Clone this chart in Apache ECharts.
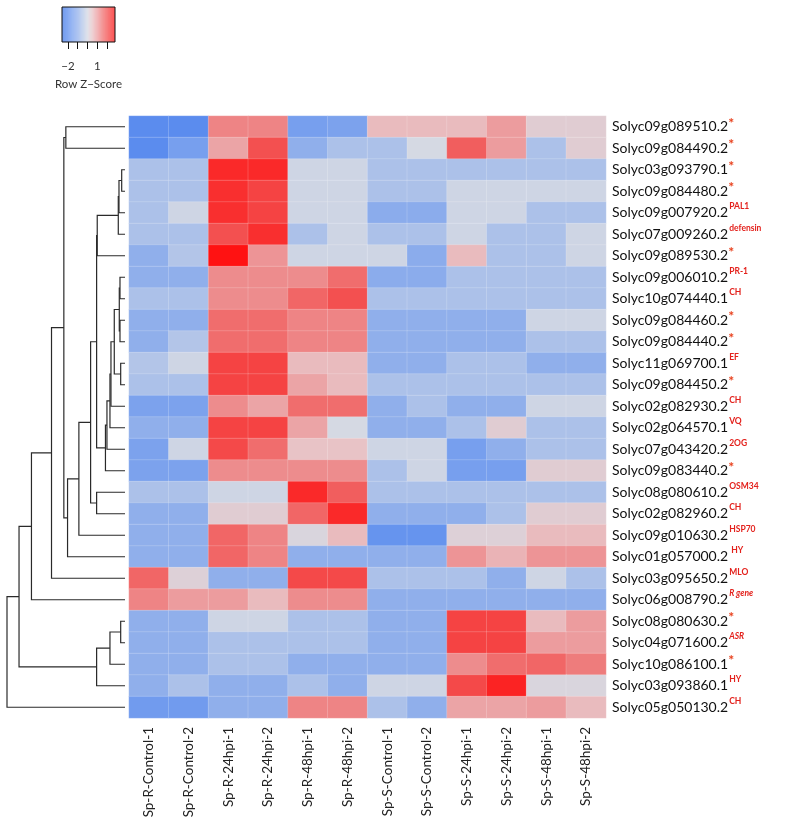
<!DOCTYPE html>
<html>
<head>
<meta charset="utf-8">
<script src="https://cdn.jsdelivr.net/npm/echarts@6/dist/echarts.min.js"></script>
<style>
  html, body { margin: 0; padding: 0; background: #fff; }
  #main { width: 790px; height: 830px; }
</style>
</head>
<body>
<div id="main"></div>
<script>
// samples (columns)
var colNames = ['Sp-R-Control-1','Sp-R-Control-2','Sp-R-24hpi-1','Sp-R-24hpi-2','Sp-R-48hpi-1','Sp-R-48hpi-2',
    'Sp-S-Control-1','Sp-S-Control-2','Sp-S-24hpi-1','Sp-S-24hpi-2','Sp-S-48hpi-1','Sp-S-48hpi-2'];

// genes (rows), top to bottom
var rowNames = ['Solyc09g089510.2','Solyc09g084490.2','Solyc03g093790.1','Solyc09g084480.2','Solyc09g007920.2',
    'Solyc07g009260.2','Solyc09g089530.2','Solyc09g006010.2','Solyc10g074440.1','Solyc09g084460.2',
    'Solyc09g084440.2','Solyc11g069700.1','Solyc09g084450.2','Solyc02g082930.2','Solyc02g064570.1',
    'Solyc07g043420.2','Solyc09g083440.2','Solyc08g080610.2','Solyc02g082960.2','Solyc09g010630.2',
    'Solyc01g057000.2','Solyc03g095650.2','Solyc06g008790.2','Solyc08g080630.2','Solyc04g071600.2',
    'Solyc10g086100.1','Solyc03g093860.1','Solyc05g050130.2'];

// red annotation next to each gene
var rowTags = ['*','*','*','*','PAL1','defensin','*','PR-1','CH','*','*','EF','*','CH','VQ','2OG','*',
    'OSM34','CH','HSP70','HY','MLO','R gene','*','ASR','*','HY','CH'];

// row z-scores, one list per gene
var zScores = [
    [-2.0,-2.0, 1.3, 1.3,-1.5,-1.4, 0.6, 0.6, 0.6, 1.0, 0.3, 0.3],
    [-2.0,-1.5, 0.9, 2.0,-1.0,-0.6,-0.6, 0.0, 1.8, 1.0,-0.6, 0.3],
    [-0.6,-0.6, 2.6, 2.6,-0.1,-0.1,-0.6,-0.6,-0.6,-0.6,-0.6,-0.6],
    [-0.6,-0.6, 2.5, 2.2,-0.1,-0.1,-0.6,-0.6,-0.1,-0.1,-0.1,-0.1],
    [-0.6,-0.1, 2.5, 2.2,-0.1,-0.1,-1.1,-1.1,-0.1,-0.1,-0.6,-0.6],
    [-0.6,-0.6, 2.0, 2.5,-0.6,-0.1,-0.6,-0.6,-0.1,-0.6,-0.6,-0.1],
    [-1.0,-0.5, 3.0, 1.1,-0.1,-0.1,-0.1,-1.1, 0.6,-0.6,-0.6,-0.1],
    [-1.0,-1.0, 1.2, 1.2, 1.2, 1.6,-1.1,-1.1,-0.6,-0.6,-0.6,-0.6],
    [-0.6,-0.6, 1.2, 1.2, 1.7, 2.0,-0.6,-0.6,-0.6,-0.6,-0.6,-0.6],
    [-1.0,-1.0, 1.6, 1.6, 1.3, 1.3,-1.0,-1.0,-1.0,-1.0,-0.1,-0.1],
    [-1.0,-0.5, 1.6, 1.6, 1.3, 1.3,-1.0,-1.0,-1.0,-1.0,-0.6,-0.6],
    [-0.5,-0.1, 2.2, 2.2, 0.6, 0.6,-1.0,-1.0,-0.6,-0.6,-1.0,-1.0],
    [-0.6,-0.6, 2.2, 2.2, 0.9, 0.6,-0.6,-0.6,-0.6,-0.6,-0.6,-0.6],
    [-1.4,-1.4, 1.2, 0.9, 1.6, 1.6,-1.0,-0.6,-1.0,-1.0,-0.1,-0.1],
    [-1.0,-1.0, 2.2, 2.2, 0.9, 0.0,-1.0,-1.0,-0.6, 0.3,-0.6,-0.6],
    [-1.4,-0.1, 2.1, 1.6, 0.5, 0.5,-0.1,-0.1,-1.5,-1.0,-0.6,-0.6],
    [-1.4,-1.4, 1.2, 1.2, 1.2, 1.2,-0.6,-0.1,-1.5,-1.5, 0.3, 0.3],
    [-0.6,-0.6,-0.1,-0.1, 2.6, 1.8,-0.6,-0.6,-0.6,-0.6,-0.6,-0.6],
    [-1.0,-1.0, 0.3, 0.3, 1.7, 2.6,-1.0,-1.0,-1.0,-0.6, 0.3, 0.3],
    [-1.0,-1.0, 1.7, 1.3, 0.1, 0.6,-1.8,-1.8, 0.2, 0.2, 0.6, 0.6],
    [-1.0,-1.0, 1.7, 1.3,-1.0,-1.0,-1.0,-1.0, 1.1, 0.7, 1.1, 1.1],
    [ 1.7, 0.2,-1.0,-1.0, 2.1, 2.1,-0.6,-0.6,-0.6,-1.0,-0.1,-0.6],
    [ 1.3, 1.0, 1.0, 0.6, 1.2, 1.2,-1.0,-1.0,-1.0,-1.0,-1.0,-1.0],
    [-1.0,-1.0,-0.1,-0.1,-0.6,-0.6,-1.0,-1.0, 2.2, 2.2, 0.6, 1.0],
    [-1.0,-1.0,-0.6,-0.6,-0.6,-0.6,-1.0,-1.0, 2.2, 2.2, 1.0, 1.0],
    [-1.0,-1.0,-0.6,-0.6,-1.0,-1.0,-1.0,-1.0, 1.2, 1.6, 1.7, 1.4],
    [-1.0,-0.6,-1.0,-1.0,-0.6,-1.0,-0.1,-0.1, 2.1, 2.7, 0.1, 0.1],
    [-1.6,-1.6,-1.0,-1.0, 1.3, 1.3,-0.6,-1.0, 0.9, 0.9, 1.0, 0.6]
];

// row dendrogram, hclust style: negative = leaf (1-based row), positive = earlier merge
var mergeA = [-1, -3, 2, 3, 4, -8, -10, 6, -12, 8, 10, 11, 12, 13, 5, -18, 15, 17, 18, 1, 20, 21, -24, 23, 24, 22, 26];
var mergeB = [-2, -4, -5, -6, -7, -9, -11, 7, -13, 9, -14, -15, -16, -17, 14, -19, 16, -20, -21, 19, -22, -23, -25, -26, -27, 25, -28];
var mergeHeight = [59, 3.3, 6, 6.7, 27.7, 5, 5, 5.7, 4.3, 10.7, 14, 15, 18, 19.5, 28.3, 28.3, 34.3, 46, 57.3, 61, 73.3, 93.3, 4.3, 15, 28.3, 105.7, 117.7];

// colour key
var keyTicks = [-2, -1, 0, 1, 2];
var keyLabels = [-2, 1];
var keyRange = [-2.6, 2.8];
var palette = ['#4a7ee9','#5b8cee','#779fee','#90afeb','#b3c5e8','#d5d9e3',
    '#e8c3c6','#ec9c9e','#ef7474','#f35050','#f92f2f','#ff1212'];

var myChart = echarts.init(document.getElementById('main'));

var heatData = [];
zScores.forEach(function (row, r) {
    row.forEach(function (v, c) { heatData.push([c, r, v]); });
});

// dendrogram node positions from the merge table
var nodePos = [], nodeH = [], dendroLines = [];
function posOf(k) { return k < 0 ? (-k - 1) + 0.5 : nodePos[k - 1]; }
function hOf(k) { return k < 0 ? 0 : nodeH[k - 1]; }
for (var i = 0; i < mergeA.length; i++) {
    var pa = posOf(mergeA[i]), pb = posOf(mergeB[i]);
    var ha = hOf(mergeA[i]), hb = hOf(mergeB[i]), h = mergeHeight[i];
    nodePos.push((pa + pb) / 2);
    nodeH.push(h);
    dendroLines.push({ coords: [[ha, pa], [h, pa], [h, pb], [hb, pb]] });
}

var keyData = [];
for (var k = keyRange[0]; k < keyRange[1] - 1e-9; k += 0.05) {
    keyData.push([k + 0.025, 0, k + 0.025]);
}

var fontFam = 'Lato, "Open Sans", sans-serif';

var option = {
    animation: false,
    textStyle: { fontFamily: fontFam },
    grid: [
        { left: 129, top: 116, width: 477, height: 602 },
        { left: 7, top: 116, width: 118, height: 602 },
        { left: 62, top: 7, width: 53, height: 35, show: true, z: 5,
          borderColor: '#111', borderWidth: 1, backgroundColor: 'transparent' }
    ],
    xAxis: [
        {
            type: 'category', data: colNames, gridIndex: 0,
            axisLine: { show: false }, axisTick: { show: false },
            axisLabel: { rotate: 90, fontSize: 13.5, color: '#222', margin: 9, fontFamily: fontFam }
        },
        {
            type: 'value', gridIndex: 1, min: 0, max: 117.7, inverse: true, show: false
        },
        {
            type: 'value', gridIndex: 2, min: keyRange[0], max: keyRange[1],
            splitLine: { show: false }, axisLine: { show: false },
            axisTick: { show: true, inside: false, customValues: keyTicks, length: 7, lineStyle: { color: '#111' } },
            axisLabel: {
                customValues: keyLabels, fontSize: 11.5, color: '#333', margin: 18,
                formatter: function (v) { return String(v).replace('-', '\u2212'); }
            },
            name: 'Row Z\u2212Score', nameLocation: 'middle', nameGap: 36,
            nameTextStyle: { fontSize: 11.5, color: '#333' }
        }
    ],
    yAxis: [
        {
            type: 'category', data: rowNames, gridIndex: 0, inverse: true, position: 'right',
            axisLine: { show: false }, axisTick: { show: false },
            axisLabel: {
                margin: 6,
                formatter: function (name, idx) {
                    var t = rowTags[idx];
                    var st = t === '*' ? 'a' : (t === 'R gene' || t === 'ASR') ? 'i' : 's';
                    var pre = t === 'HY' && name === 'Solyc01g057000.2' ? ' ' : '';
                    return '{n|' + name + '}{' + st + '|' + pre + t + '}';
                },
                rich: {
                    n: { fontSize: 14, color: '#111', lineHeight: 21, fontFamily: fontFam },
                    s: { fontSize: 8.5, color: '#e3211c', fontWeight: 'bold', verticalAlign: 'top', lineHeight: 9, padding: [0, 0, 0, 1], fontFamily: fontFam },
                    i: { fontSize: 8.5, color: '#e3211c', fontWeight: 'bold', fontStyle: 'italic', verticalAlign: 'top', lineHeight: 9, padding: [0, 0, 0, 1], fontFamily: fontFam },
                    a: { fontSize: 14, color: '#e8401c', fontWeight: 'bold', verticalAlign: 'top', lineHeight: 12, fontFamily: fontFam }
                }
            }
        },
        { type: 'value', gridIndex: 1, min: 0, max: rowNames.length, inverse: true, show: false },
        { type: 'value', gridIndex: 2, min: 0, max: 1, show: false }
    ],
    visualMap: {
        type: 'continuous', show: false, min: -2.5, max: 3.0, dimension: 2,
        seriesIndex: [0, 2], inRange: { color: palette }
    },
    series: [
        {
            type: 'heatmap', xAxisIndex: 0, yAxisIndex: 0, data: heatData,
            itemStyle: { borderColor: 'rgba(255,255,255,0.3)', borderWidth: 0.6 }
        },
        {
            type: 'lines', coordinateSystem: 'cartesian2d', xAxisIndex: 1, yAxisIndex: 1,
            polyline: true, silent: true, data: dendroLines,
            lineStyle: { color: '#2a2a2a', width: 1.2, opacity: 1 }
        },
        {
            type: 'custom', xAxisIndex: 2, yAxisIndex: 2, data: keyData,
            encode: { x: 0, y: 1 },
            renderItem: function (params, api) {
                var v = api.value(0);
                var p0 = api.coord([v - 0.026, 0]);
                var p1 = api.coord([v + 0.026, 1]);
                return {
                    type: 'rect',
                    shape: { x: p0[0], y: p1[1], width: p1[0] - p0[0], height: p0[1] - p1[1] },
                    style: { fill: api.visual('color') }
                };
            }
        }
    ]
};
myChart.setOption(option);
</script>
</body>
</html>
